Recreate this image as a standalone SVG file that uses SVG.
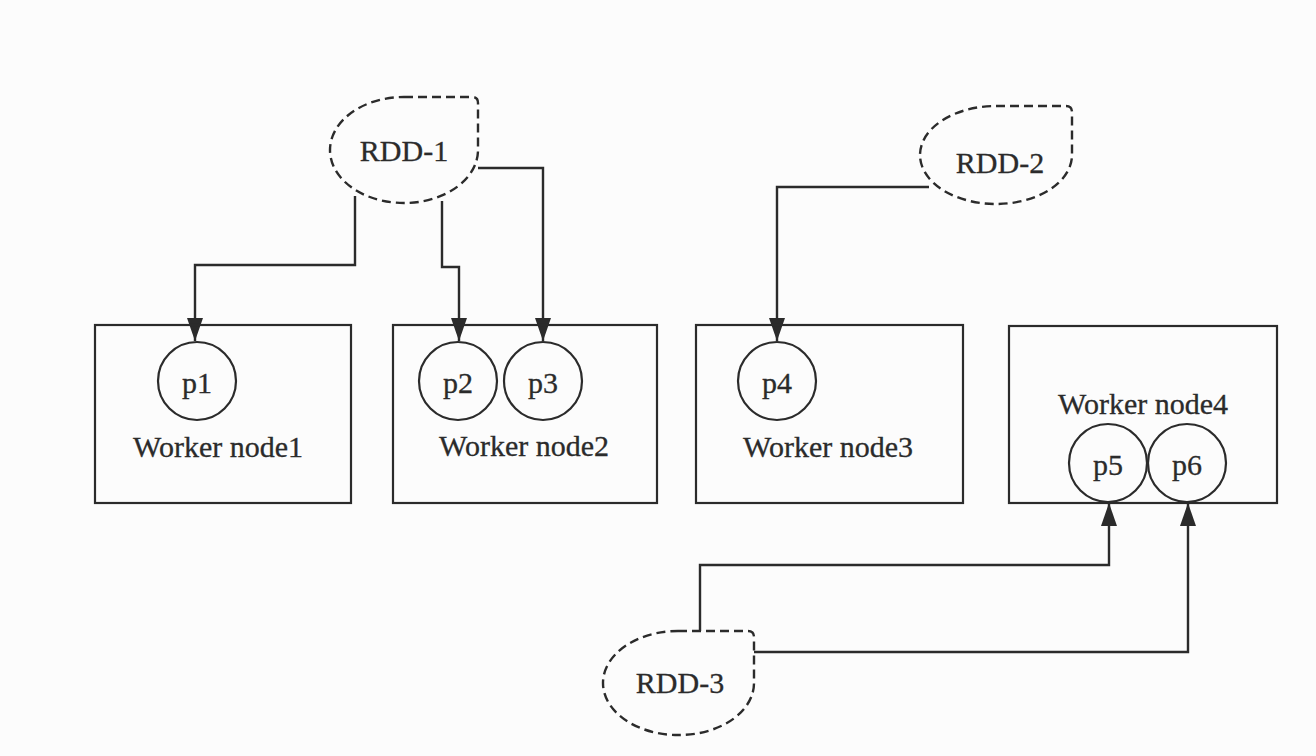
<svg xmlns="http://www.w3.org/2000/svg" width="1316" height="756" viewBox="0 0 1316 756">
<defs>
<style>
.box{fill:none;stroke:#2b2b2b;stroke-width:2.2}
.part{fill:none;stroke:#2b2b2b;stroke-width:2.2}
.rdd{fill:none;stroke:#2b2b2b;stroke-width:2.4;stroke-dasharray:9 5}
.conn{fill:none;stroke:#2b2b2b;stroke-width:2.4;marker-end:url(#arrow)}
text{font-family:"Liberation Serif","Times New Roman",serif;font-size:30px;fill:#2b2b2b;stroke:#2b2b2b;stroke-width:0.3;text-anchor:middle}
</style>
<marker id="arrow" viewBox="0 0 23 16" refX="23" refY="8" markerWidth="23" markerHeight="16" markerUnits="userSpaceOnUse" orient="auto">
<path d="M0,0 L23,8 L0,16 Z" fill="#2b2b2b"/>
</marker>
</defs>
<rect width="1316" height="756" fill="#fcfcfc"/>
<g id="connectors">
<path class="conn" d="M355,196 V265 H195 V341"/>
<path class="conn" d="M442,201 V267 H459 V341"/>
<path class="conn" d="M478,168 H543 V341"/>
<path class="conn" d="M929,187 H777 V341"/>
<path class="conn" d="M700,631 V565 H1109 V503"/>
<path class="conn" d="M754,652 H1188 V503"/>
</g>
<g id="rdd1">
<path class="rdd" d="M404,97 H472 Q478,97 478,103 V150 A74,53 0 0 1 404,203 A74,53 0 0 1 330,150 A74,53 0 0 1 404,97 Z"/>
<text x="404" y="161">RDD-1</text>
</g>
<g id="rdd2">
<path class="rdd" d="M996,106 H1066 Q1072,106 1072,112 V155 A76,49 0 0 1 996,204 A76,49 0 0 1 920,155 A76,49 0 0 1 996,106 Z"/>
<text x="1000" y="173">RDD-2</text>
</g>
<g id="rdd3">
<path class="rdd" d="M678,631 H748 Q754,631 754,637 V683 A75,52 0 0 1 678,735 A75,52 0 0 1 603,683 A75,52 0 0 1 678,631 Z"/>
<text x="680" y="693">RDD-3</text>
</g>
<g id="worker1">
<rect class="box" x="95" y="325" width="256" height="178"/>
<text x="218" y="457">Worker node1</text>
</g>
<g id="p1">
<circle class="part" cx="197" cy="381" r="39"/>
<text x="197" y="393">p1</text>
</g>
<g id="worker2">
<rect class="box" x="393" y="325" width="264" height="178"/>
<text x="524" y="456">Worker node2</text>
</g>
<g id="p2">
<circle class="part" cx="458" cy="381" r="39"/>
<text x="458" y="393">p2</text>
</g>
<g id="p3">
<circle class="part" cx="543" cy="381" r="39"/>
<text x="543" y="393">p3</text>
</g>
<g id="worker3">
<rect class="box" x="696" y="325" width="267" height="178"/>
<text x="828" y="457">Worker node3</text>
</g>
<g id="p4">
<circle class="part" cx="777" cy="381" r="39"/>
<text x="777" y="393">p4</text>
</g>
<g id="worker4">
<rect class="box" x="1009" y="326" width="268" height="177"/>
<text x="1143" y="414">Worker node4</text>
</g>
<g id="p5">
<circle class="part" cx="1108" cy="463" r="39"/>
<text x="1108" y="475">p5</text>
</g>
<g id="p6">
<circle class="part" cx="1187" cy="463" r="39"/>
<text x="1187" y="475">p6</text>
</g>
</svg>
